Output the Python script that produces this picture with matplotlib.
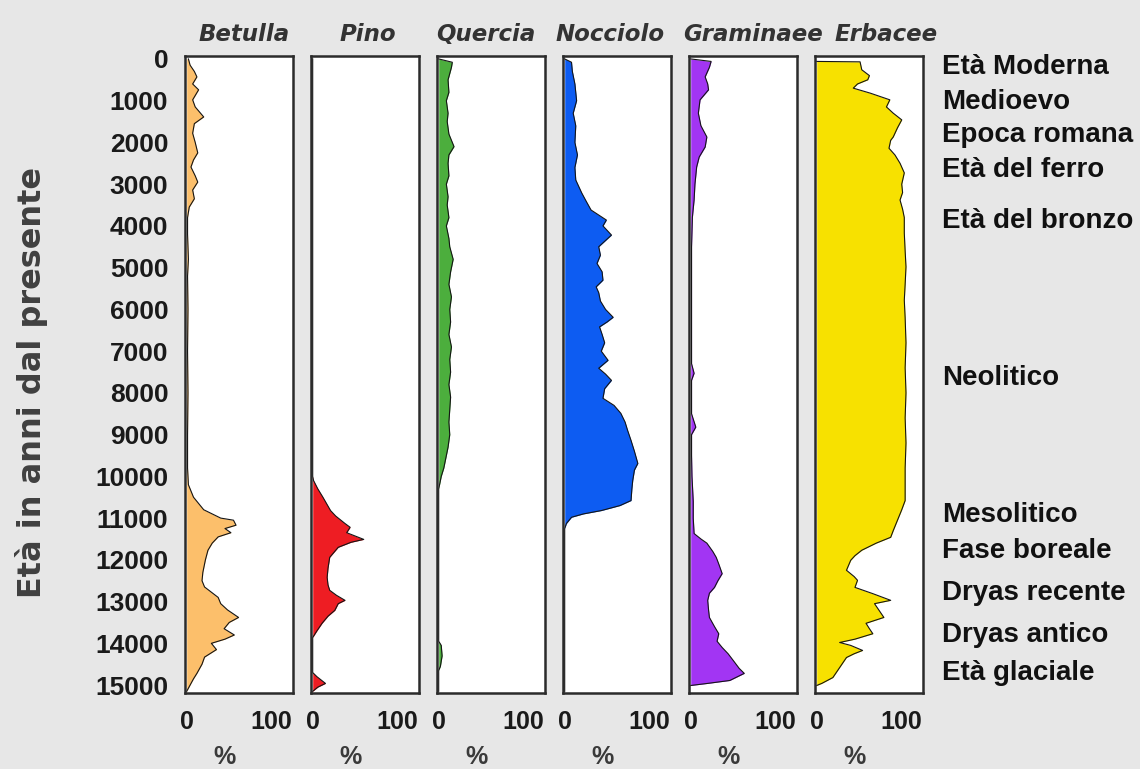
import matplotlib
matplotlib.use('Agg')
import matplotlib.pyplot as plt

eta_betulla = [0, 150, 300, 430, 600, 740, 980, 1150, 1390, 1550, 1780, 2000, 2250, 2420,
               2590, 2800, 2950, 3140, 3350, 3550, 3800, 4200, 4800, 5200, 6000, 7000,
               8000, 9000, 9800, 10200, 10500, 10800, 11000, 11050, 11170, 11250, 11350,
               11450, 11600, 11770, 12000, 12300, 12500, 12650, 12900, 13050, 13200,
               13380, 13500, 13650, 13800, 13900, 14000, 14150, 14330, 14500, 14720,
               14850, 15000, 15150]
perc_betulla = [2, 4, 9, 12, 7, 14, 7, 10, 20, 9, 7, 10, 13, 8,
                5, 10, 13, 7, 9, 3, 1, 1, 2, 1, 1.5, 1,
                1.5, 1, 1, 2, 8, 20, 40, 55, 58, 45, 52,
                37, 30, 25, 22, 19, 18, 21, 37, 40, 48,
                61, 50, 44, 56, 45, 29, 35, 21, 18, 12,
                8, 4, 0]

eta_pino = [0, 10000, 10100, 10300, 10500, 10820, 10950, 11130, 11220, 11350, 11510, 11580,
            11700, 11940, 12200, 12420, 12600, 12730, 12850, 12970, 13050, 13210, 13350,
            13520, 13700, 13860, 14700, 14800, 14960, 15050, 15150]
perc_pino = [0, 0, 1, 6, 12, 21, 27, 38, 44, 40, 60, 45,
             30, 20, 18, 17, 18, 20, 28, 38, 30, 26, 18,
             11, 5, 0, 0, 5, 15, 6, 0]

eta_quercia = [0, 80, 200, 500, 800, 1000, 1300, 1500, 1800, 2000, 2100, 2300, 2500, 2800,
               3000, 3300, 3500, 3800, 4000, 4300, 4500, 4800, 5100, 5400, 5700, 6000,
               6300, 6600, 6900, 7200, 7500, 7800, 8100, 8400, 8700, 9000, 9300, 9600,
               9800, 10000, 10300, 13950, 14050, 14300, 14550, 14650, 15150]
perc_quercia = [0, 16, 15, 11, 12, 9, 11, 10, 12, 16, 18, 12, 11, 12,
                9, 11, 10, 12, 9, 12, 13, 17, 14, 12, 15, 13,
                14, 12, 15, 13, 14, 12, 14, 13, 12, 13, 11, 8,
                6, 3, 0, 0, 3, 4, 2, 0, 0]

eta_nocciolo = [0, 80, 300, 600, 1000, 1300, 1600, 2000, 2300, 2600, 2900, 3210, 3400,
                3620, 3860, 4000, 4220, 4350, 4500, 4700, 4900, 5100, 5300, 5460, 5600,
                5800, 6000, 6190, 6300, 6420, 6600, 6800, 7000, 7220, 7410, 7550, 7700,
                7900, 8130, 8300, 8490, 8700, 8900, 9140, 9400, 9690, 9850, 10100, 10300,
                10580, 10700, 10820, 10900, 10980, 11130, 11250, 15150]
perc_nocciolo = [0, 8, 9, 12, 14, 10, 13, 12, 15, 12, 13, 20, 25,
                 31, 49, 45, 55, 48, 40, 42, 38, 44, 45, 37, 40,
                 42, 48, 57, 50, 41, 44, 47, 43, 51, 40, 48, 55,
                 47, 45, 58, 66, 71, 74, 78, 82, 86, 82, 80, 79,
                 78, 65, 43, 22, 8, 2, 0, 0]

eta_graminaee = [0, 60, 200, 430, 600, 740, 980, 1300, 1600, 1870, 2110, 2350, 2590, 3000,
                 3380, 3790, 4500, 5500, 6500, 7300, 7530, 7700, 8500, 8820, 9000, 9500,
                 10000, 10600, 11000, 11370, 11500, 11600, 11800, 11940, 12100, 12330,
                 12500, 12660, 12800, 12970, 13200, 13380, 13600, 13770, 13950, 14100,
                 14250, 14410, 14600, 14720, 14800, 14890, 14960, 15010]
perc_graminaee = [0, 24, 22, 17, 20, 21, 11, 9, 12, 19, 17, 10, 7, 5,
                  4, 2, 1, 1, 1, 1, 4, 1, 1, 6, 1, 1,
                  1.5, 3, 3, 4, 12, 19, 26, 30, 33, 37,
                  32, 28, 22, 20, 21, 22, 28, 33, 31, 37,
                  44, 50, 57, 63, 55, 46, 20, 0]

eta_erbacee = [60, 70, 260, 400, 500, 600, 700, 820, 980, 1150, 1300, 1460, 1650, 1870,
               1950, 2140, 2300, 2500, 2730, 3000, 3200, 3380, 3600, 3800, 4170, 4600,
               4980, 5400, 5780, 6200, 6800, 7400, 8000, 8600, 9200, 9800, 10300, 10580,
               10800, 11050, 11300, 11460, 11600, 11770, 11900, 12010, 12250, 12400,
               12490, 12660, 12810, 12970, 13050, 13200, 13380, 13520, 13650, 13770,
               13900, 13980, 14050, 14170, 14250, 14340, 14580, 14820, 14960, 15010]
perc_erbacee = [0, 51, 53, 62, 60, 48, 43, 63, 86, 82, 90, 100, 95, 90,
                87, 85, 92, 98, 103, 100, 101, 98, 101, 103, 103, 104,
                105, 104, 103, 104, 105, 104, 105, 104, 105, 104, 104, 104,
                100, 95, 90, 87, 70, 53, 45, 40, 35, 44,
                48, 45, 66, 87, 68, 73, 79, 58, 62, 66,
                45, 27, 40, 54, 44, 35, 27, 19, 6, 0]

taxa = ['Betulla', 'Pino', 'Quercia', 'Nocciolo', 'Graminaee', 'Erbacee']
serie = [(eta_betulla, perc_betulla), (eta_pino, perc_pino), (eta_quercia, perc_quercia),
         (eta_nocciolo, perc_nocciolo), (eta_graminaee, perc_graminaee),
         (eta_erbacee, perc_erbacee)]

periodi = ['Età Moderna', 'Medioevo', 'Epoca romana', 'Età del ferro', 'Età del bronzo',
           'Neolitico', 'Mesolitico', 'Fase boreale', 'Dryas recente', 'Dryas antico',
           'Età glaciale']
anni_periodi = [190, 1030, 1820, 2660, 3880, 7650, 10930, 11800, 12800, 13810, 14700]

anni_ticks = list(range(0, 15001, 1000))

# --- stile ---
colori = ['#fcbf6b', '#ee1d23', '#4cae3d', '#0d5cf2', '#a235f3', '#f7e100']
title_x = [0.55, 0.53, 0.45, 0.44, 0.59, 0.66]
W, H = 1140, 769

fig = plt.figure(figsize=(W / 100, H / 100), dpi=100)
fig.patch.set_facecolor('#e7e7e7')

for i, (nome, (eta, perc)) in enumerate(zip(taxa, serie)):
    left = (185 + i * 126) / W
    ax = fig.add_axes([left, (H - 693) / H, 108 / W, 637 / H])
    ax.set_facecolor('white')
    ax.fill_betweenx(eta, 0, perc, color=colori[i], lw=0)
    ax.plot(perc, eta, color='#151515', lw=0.8)
    ax.set_xlim(-2, 125)
    ax.set_ylim(15190, -70)

    for sp in ax.spines.values():
        sp.set_linewidth(1.8)
        sp.set_color('#2b2b2b')

    ax.set_xticks([0, 100])
    ax.set_xticklabels(['0', '100'], fontsize=18, fontweight='bold',
                       family='Liberation Sans', color='#1a1a1a')
    ax.tick_params(axis='x', length=0, pad=12)

    if i == 0:
        ax.set_yticks(anni_ticks)
        ax.set_yticklabels([str(a) for a in anni_ticks], fontsize=19, fontweight='bold',
                           family='Liberation Sans', color='#1a1a1a')
        ax.tick_params(axis='y', length=0, pad=12)
    else:
        ax.set_yticks([])

    ax.set_title(nome, x=title_x[i], pad=11, fontsize=16.5, fontstyle='italic',
                 fontweight='bold', family='DejaVu Sans', color='#333333')
    ax.text(0.37, -0.10, '%', transform=ax.transAxes, ha='center', va='center',
            fontsize=18, fontweight='bold', family='Liberation Sans', color='#3a3a3a')

    if i == len(taxa) - 1:
        for lab, anno in zip(periodi, anni_periodi):
            ax.text(1.175, anno, lab, transform=ax.get_yaxis_transform(), ha='left',
                    va='center', fontsize=20, fontweight='bold',
                    family='Liberation Sans', color='#111111', clip_on=False)

fig.text(0.028, 0.502, 'Età in anni dal presente', rotation=90, ha='center', va='center',
         fontsize=23, fontweight='bold', family='DejaVu Sans', color='#404040')

fig.savefig('out.png', dpi=100, facecolor=fig.get_facecolor())
